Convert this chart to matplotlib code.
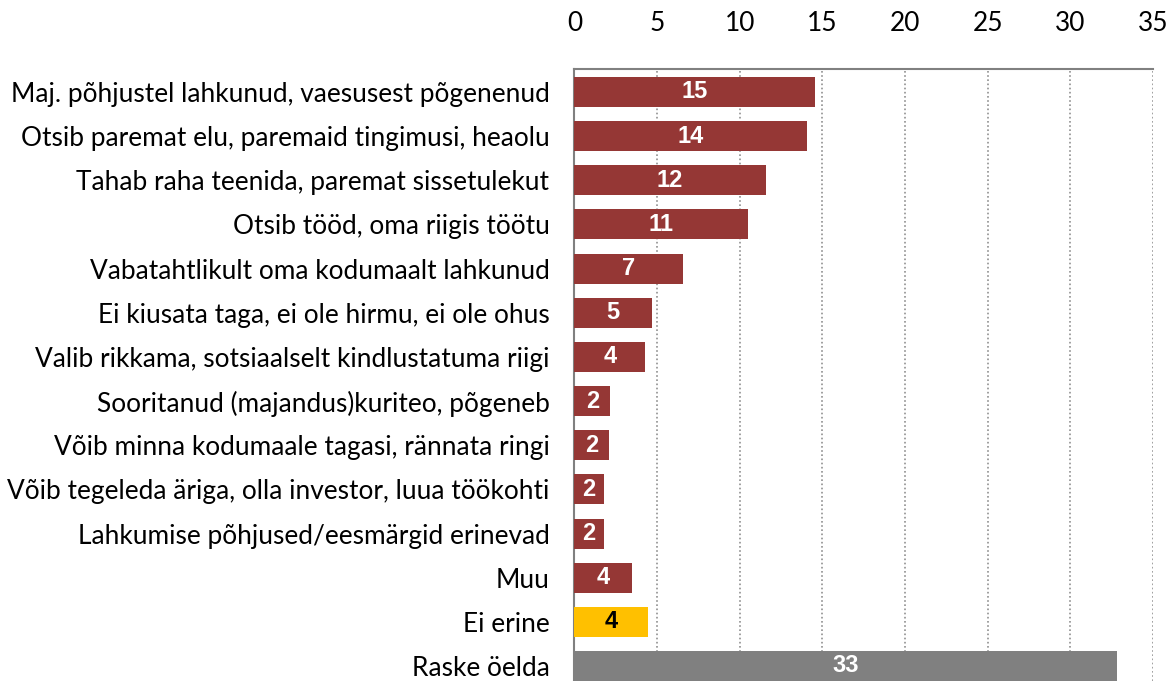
import matplotlib
matplotlib.use('Agg')
import matplotlib.pyplot as plt

# data
categories = [
    'Maj. põhjustel lahkunud, vaesusest põgenenud',
    'Otsib paremat elu, paremaid tingimusi, heaolu',
    'Tahab raha teenida, paremat sissetulekut',
    'Otsib tööd, oma riigis töötu',
    'Vabatahtlikult oma kodumaalt lahkunud',
    'Ei kiusata taga, ei ole hirmu, ei ole ohus',
    'Valib rikkama, sotsiaalselt kindlustatuma riigi',
    'Sooritanud (majandus)kuriteo, põgeneb',
    'Võib minna kodumaale tagasi, rännata ringi',
    'Võib tegeleda äriga, olla investor, luua töökohti',
    'Lahkumise põhjused/eesmärgid erinevad',
    'Muu',
    'Ei erine',
    'Raske öelda',
]
values = [14.57, 14.06, 11.58, 10.5, 6.57, 4.69, 4.27, 2.18, 2.08, 1.77, 1.77, 3.51, 4.45, 32.85]
value_labels = ['15', '14', '12', '11', '7', '5', '4', '2', '2', '2', '2', '4', '4', '33']
colors = ['#953735'] * 12 + ['#FFC000', '#808080']
label_colors = ['white'] * 12 + ['black', 'white']
xticks = [0, 5, 10, 15, 20, 25, 30, 35]

plt.rcParams['font.family'] = ['Lato', 'DejaVu Sans']

fig = plt.figure(figsize=(11.76, 6.81), dpi=100)
ax = fig.add_axes([574.4 / 1176, 0, (1153 - 574.4) / 1176, (681 - 69) / 681])

y = list(range(len(categories)))
ax.barh(y, values, height=0.68, color=colors, zorder=3)

for yi, v, txt, lc in zip(y, values, value_labels, label_colors):
    ax.text(v / 2, yi, txt, ha='center', va='center', color=lc,
            fontsize=17, fontweight='bold',
            family=['Liberation Sans', 'DejaVu Sans'], zorder=4)

ax.set_xlim(0, 35)
ax.set_ylim(13.34, -0.52)
ax.set_xticks(xticks)
ax.set_yticks(y)
ax.set_yticklabels(categories, fontsize=18.9)
ax.xaxis.tick_top()
ax.tick_params(axis='x', length=0, pad=24, labelsize=18.9)
ax.tick_params(axis='y', length=0, pad=18)

ax.grid(axis='x', linestyle=(0, (1, 1.5)), color='#909090', linewidth=1.2, zorder=0)
for s in ['right', 'bottom']:
    ax.spines[s].set_visible(False)
ax.spines['left'].set_color('#808080')
ax.spines['top'].set_color('#808080')
ax.spines['left'].set_linewidth(1.5)
ax.spines['top'].set_linewidth(1.5)

fig.savefig('out.png', dpi=100)
